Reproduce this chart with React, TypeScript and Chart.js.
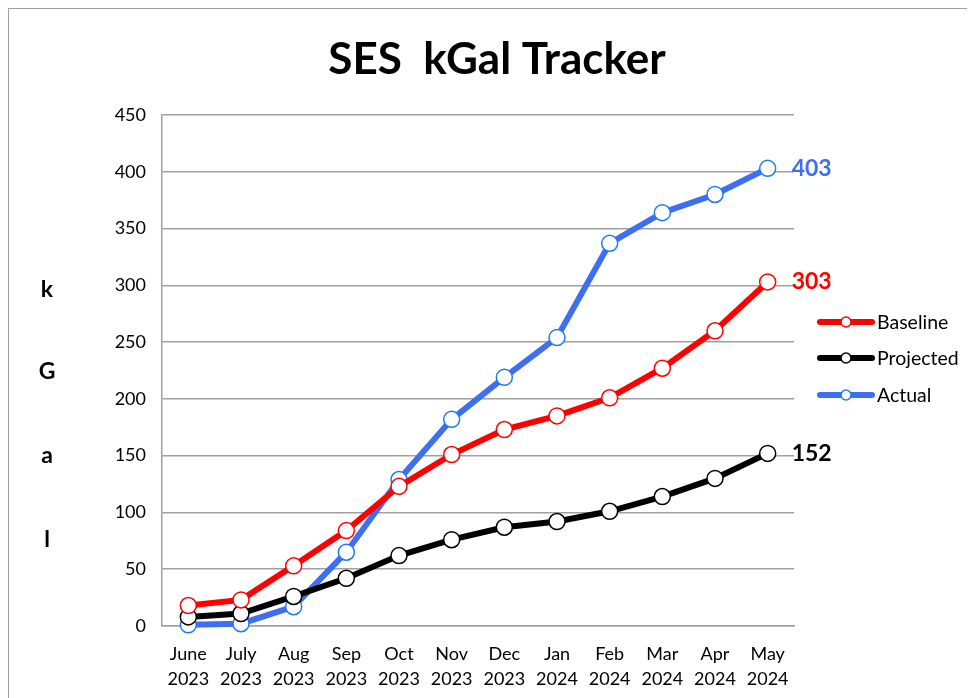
import React, { useEffect, useRef } from "react";
import { Chart, registerables } from "chart.js";

Chart.register(...registerables);

const categories: string[][] = [
  ["June", "2023"], ["July", "2023"], ["Aug", "2023"], ["Sep", "2023"],
  ["Oct", "2023"], ["Nov", "2023"], ["Dec", "2023"], ["Jan", "2024"],
  ["Feb", "2024"], ["Mar", "2024"], ["Apr", "2024"], ["May", "2024"],
];
const baseline = [18, 23, 53, 84, 123, 151, 173, 185, 201, 227, 260, 303];
const projected = [8, 11, 26, 42, 62, 76, 87, 92, 101, 114, 130, 152];
const actual = [1, 2, 17, 65, 129, 182, 219, 254, 337, 364, 380, 403];
const titleText = "SES  kGal Tracker";
const yTitleLetters = ["k", "G", "a", "l"];

const RED = "#ff0000";
const BLACK = "#000000";
const BLUE = "#3e6ff2";
const BLUE_PT = "#1f7bf2";
const FONT = "Lato, 'Open Sans', sans-serif";

const decorPlugin = {
  id: "decor",
  afterDraw(chart: any) {
    const ctx = chart.ctx;
    ctx.save();
    // title
    ctx.fillStyle = "#000";
    ctx.font = `bold 44px ${FONT}`;
    ctx.textAlign = "center";
    ctx.textBaseline = "middle";
    ctx.fillText(titleText, 488, 51);
    // y title letters
    ctx.font = `bold 23px ${FONT}`;
    const ys = [281, 363, 447, 531];
    yTitleLetters.forEach((l, i) => ctx.fillText(l, 38, ys[i]));
    // end labels
    ctx.font = `bold 23px ${FONT}`;
    ctx.textAlign = "left";
    chart.data.datasets.forEach((ds: any, i: number) => {
      const meta = chart.getDatasetMeta(i);
      const pt = meta.data[meta.data.length - 1];
      ctx.fillStyle = ds.endColor;
      ctx.fillText(String(ds.data[ds.data.length - 1]), pt.x + 24, pt.y);
    });
    // legend
    const legendY = [313, 349, 386];
    ctx.font = `19.5px ${FONT}`;
    chart.data.datasets.forEach((ds: any, i: number) => {
      const y = legendY[i];
      ctx.strokeStyle = ds.borderColor;
      ctx.lineWidth = 6;
      ctx.lineCap = "round";
      ctx.beginPath();
      ctx.moveTo(811, y);
      ctx.lineTo(863, y);
      ctx.stroke();
      ctx.beginPath();
      ctx.arc(837, y, 5, 0, Math.PI * 2);
      ctx.fillStyle = "#fff";
      ctx.fill();
      ctx.lineWidth = 1.5;
      ctx.strokeStyle = ds.pointBorderColor;
      ctx.stroke();
      ctx.fillStyle = "#000";
      ctx.textAlign = "left";
      ctx.fillText(ds.label, 868, y + 1);
    });
    ctx.restore();
  },
};

export default function App() {
  const ref = useRef<HTMLCanvasElement>(null);
  useEffect(() => {
    if (!ref.current) return;
    const mk = (label: string, data: number[], color: string, ptColor: string) => ({
      label,
      data,
      borderColor: color,
      backgroundColor: "#ffffff",
      borderWidth: 6,
      pointRadius: 8,
      pointBackgroundColor: "#ffffff",
      pointBorderColor: ptColor,
      pointBorderWidth: 1.5,
      tension: 0,
      clip: false,
      endColor: color,
    });
    const chart = new Chart(ref.current, {
      type: "line",
      data: {
        labels: categories,
        datasets: [
          mk("Baseline", baseline, RED, RED),
          mk("Projected", projected, BLACK, BLACK),
          mk("Actual", actual, BLUE, BLUE_PT),
        ] as any,
      },
      options: {
        animation: false,
        responsive: false,
        layout: { padding: { top: 106, right: 181, bottom: 0, left: 0 } },
        plugins: { legend: { display: false }, title: { display: false }, tooltip: { enabled: false } },
        scales: {
          x: {
            offset: true,
            grid: { display: false, drawTicks: false },
            border: { display: true, color: "#a0a0a0", width: 1.5 },
            ticks: { color: "#000", font: { family: FONT, size: 18, lineHeight: 1.39 }, padding: 16, maxRotation: 0, autoSkip: false },
            afterFit: (s: any) => { s.height = 72; },
          },
          y: {
            min: 0,
            max: 450,
            grid: { color: "#a0a0a0", lineWidth: 1.5, drawTicks: false },
            border: { display: true, color: "#a0a0a0", width: 1.5 },
            ticks: { stepSize: 50, color: "#000", font: { family: FONT, size: 18 }, padding: 16 },
            afterFit: (s: any) => { s.width = 153; },
          },
        },
      } as any,
      plugins: [decorPlugin],
    });
    return () => chart.destroy();
  }, []);
  return (
    <div
      style={{
        width: 967,
        height: 690,
        boxSizing: "border-box",
        borderLeft: "1.5px solid #a0a0a0",
        borderTop: "1.5px solid #a0a0a0",
        overflow: "hidden",
      }}
    >
      <canvas ref={ref} width={966} height={689} style={{ display: "block" }} />
    </div>
  );
}
